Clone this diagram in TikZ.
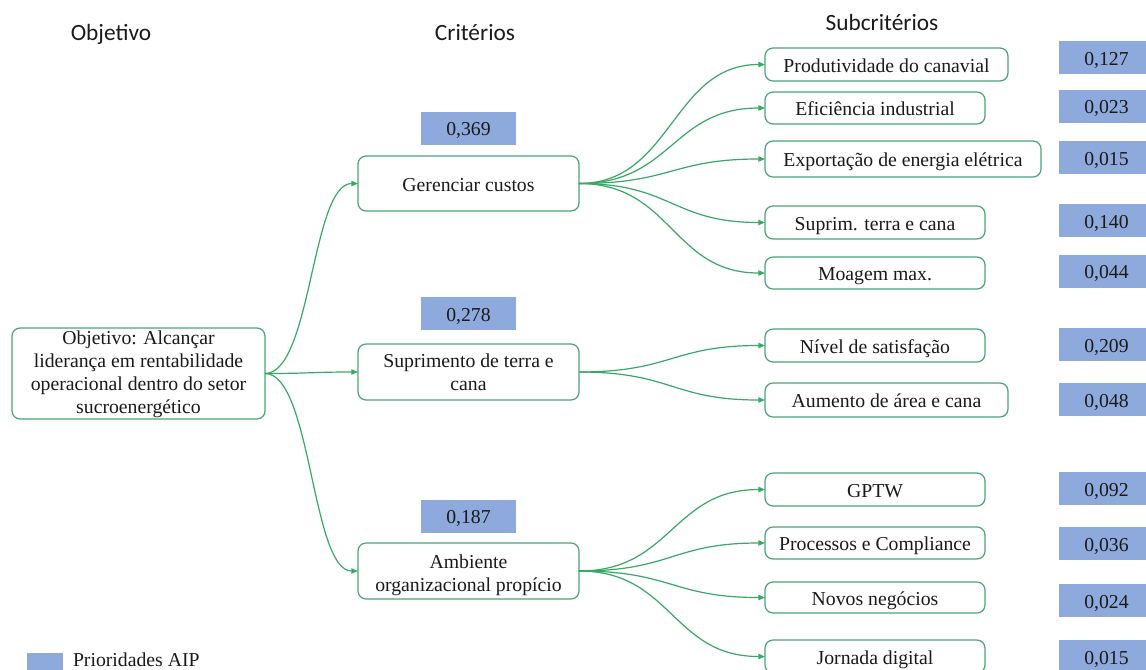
\documentclass[tikz,border=0pt]{standalone}
\usepackage{fontspec}
\setmainfont{Liberation Serif}
\newfontfamily\headfont{Carlito}
\usetikzlibrary{arrows.meta,calc}
\definecolor{linkgreen}{HTML}{37A865}
\definecolor{framegreen}{HTML}{4AA37A}
\definecolor{prioblue}{HTML}{8EA9DB}
\definecolor{ink}{HTML}{1A1A1A}
\begin{document}
\begin{tikzpicture}[x=0.75pt,y=-0.75pt,
  every node/.style={inner sep=0pt,outer sep=0pt,text=ink},
  bodytext/.style={font=\fontsize{14.8}{17.3}\selectfont},
  frame/.style={bodytext,draw=framegreen,line width=0.9pt,rounded corners=6pt,fill=white,align=center},
  oneline/.style={text height=13.5pt,text depth=2pt},
  crit/.style={frame,minimum width={221*0.75pt}},
  sub/.style={frame,oneline,minimum height={33*0.75pt}},
  prio/.style={bodytext,oneline,fill=prioblue,minimum width={95*0.75pt},minimum height={33*0.75pt}},
  header/.style={font=\headfont\fontsize{17.5}{21}\selectfont,anchor=base},
  link/.style={draw=linkgreen,line width=0.9pt,-{Triangle[length=5pt,width=4pt]}},
  sconn/.style={to path={.. controls ($(\tikztostart)!0.5!(\tikztostart-|\tikztotarget)$) and ($(\tikztotarget)!0.5!(\tikztotarget-|\tikztostart)$) .. (\tikztotarget)}}
]
\useasboundingbox (0,0) rectangle (1146,669);
\clip (0,0) rectangle (1146,669);

% column headers
\node[header] (hobj) at (111,40) {Objetivo};
\node[header] (hcrit) at (475,40) {Critérios};
\node[header] (hsub) at (882,30) {Subcritérios};

% goal
\node[frame,minimum width={253*0.75pt},minimum height={91*0.75pt}] (obj) at (138.5,373.5)
  {\rule{0pt}{12pt}Objetivo: Alcançar\\liderança em rentabilidade\\operacional dentro do setor\\sucroenergético};

% criteria
\node[crit,oneline,minimum height={55*0.75pt}] (ger) at (468.5,183.5) {Gerenciar custos};
\node[crit,minimum height={56*0.75pt}] (sup) at (468.5,372) {\rule{0pt}{11pt}Suprimento de terra e\\cana};
\node[crit,minimum height={56*0.75pt}] (amb) at (468.5,571) {\rule{0pt}{16pt}Ambiente\\organizacional propício};

\node[prio] (pger) at (468.5,128) {0,369};
\node[prio] (psup) at (468.5,313.5) {0,278};
\node[prio] (pamb) at (468.5,516) {0,187};

% sub-criteria
\node[sub,minimum width={243*0.75pt}] (s1) at (886.5,64.5) {Produtividade do canavial};
\node[sub,minimum width={220*0.75pt},minimum height={32*0.75pt}] (s2) at (875,108) {Eficiência industrial};
\node[sub,minimum width={276*0.75pt},minimum height={36*0.75pt}] (s3) at (903,159) {Exportação de energia elétrica};
\node[sub,minimum width={220*0.75pt}] (s4) at (875,222.5) {Suprim. terra e cana};
\node[sub,minimum width={220*0.75pt},minimum height={32*0.75pt}] (s5) at (875,273) {Moagem max.};
\node[sub,minimum width={220*0.75pt}] (s6) at (875,345.5) {Nível de satisfação};
\node[sub,minimum width={243*0.75pt},minimum height={34*0.75pt}] (s7) at (886.5,400) {Aumento de área e cana};
\node[sub,minimum width={220*0.75pt}] (s8) at (875,489.5) {GPTW};
\node[sub,minimum width={220*0.75pt},minimum height={32*0.75pt}] (s9) at (875,543) {Processos e Compliance};
\node[sub,minimum width={220*0.75pt},minimum height={31*0.75pt}] (s10) at (875,597.5) {Novos negócios};
\node[sub,minimum width={220*0.75pt}] (s11) at (875,656.5) {Jornada digital};

% sub-criteria priorities
\node[prio] (p1) at (1106.5,57.5) {0,127};
\node[prio] (p2) at (1106.5,106) {0,023};
\node[prio] (p3) at (1106.5,157.5) {0,015};
\node[prio] (p4) at (1106.5,220.5) {0,140};
\node[prio] (p5) at (1106.5,271) {0,044};
\node[prio] (p6) at (1106.5,344.5) {0,209};
\node[prio] (p7) at (1106.5,399.5) {0,048};
\node[prio] (p8) at (1106.5,488.5) {0,092};
\node[prio] (p9) at (1106.5,543.5) {0,036};
\node[prio] (p10) at (1106.5,600.5) {0,024};
\node[prio] (p11) at (1106.5,656.5) {0,015};

% legend
\node[fill=prioblue,minimum width={36*0.75pt},minimum height={28*0.75pt}] (legkey) at (45,667) {};
\node[bodytext,anchor=base west,text depth=0pt] (legtext) at (73,666) {Prioridades AIP};

% connectors
\draw[link] (obj.east) to[sconn] (ger.west);
\draw[link] (obj.east) to[sconn] (sup.west);
\draw[link] (obj.east) to[sconn] (amb.west);

\foreach \t in {s1,s2,s3,s4,s5}
  \draw[link] (ger.east) to[sconn] (\t.west);
\foreach \t in {s6,s7}
  \draw[link] (sup.east) to[sconn] (\t.west);
\foreach \t in {s8,s9,s10,s11}
  \draw[link] (amb.east) to[sconn] (\t.west);
\end{tikzpicture}
\end{document}
